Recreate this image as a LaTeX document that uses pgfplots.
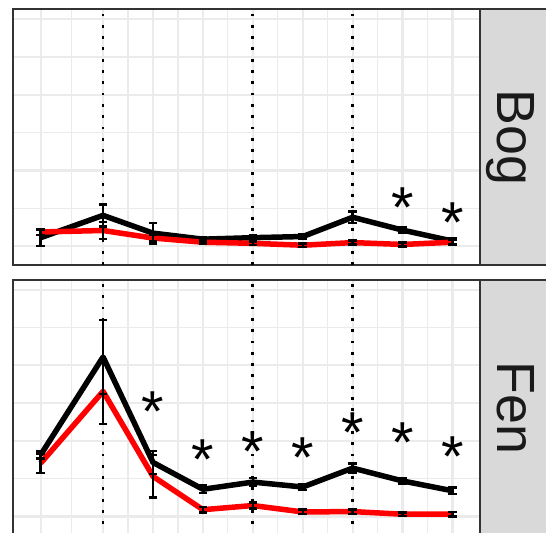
\documentclass[border=0pt]{standalone}
\usepackage{pgfplots}
\pgfplotsset{compat=1.18}
\usepackage{pgfplotstable}
\usepackage{fontspec}
\setmainfont{Liberation Sans}
\definecolor{gridc}{HTML}{EBEBEB}
\definecolor{framec}{HTML}{333333}
\definecolor{stripc}{HTML}{D9D9D9}
\definecolor{striptext}{HTML}{1A1A1A}

\pgfplotstableread{
x    bk   bke  rd   rde
0    0.22 0.22 0.37 0.08
1.25 0.81 0.29 0.41 0.22
2.25 0.34 0.27 0.21 0.08
3.25 0.18 0.06 0.10 0.05
4.25 0.22 0.07 0.07 0.05
5.25 0.25 0.07 0.02 0.05
6.25 0.76 0.15 0.09 0.05
7.25 0.42 0.08 0.04 0.05
8.25 0.13 0.08 0.10 0.06
}\bog

\pgfplotstableread{
x    bk   bke  rd   rde
0    1.63 0.10 1.41 0.26
1.25 4.22 0.98 3.31 0.86
2.25 1.43 0.31 1.06 0.56
3.25 0.72 0.10 0.18 0.07
4.25 0.91 0.11 0.29 0.08
5.25 0.78 0.08 0.12 0.06
6.25 1.28 0.12 0.13 0.06
7.25 0.94 0.07 0.06 0.05
8.25 0.68 0.09 0.06 0.06
}\fen

\pgfplotsset{
  panel/.style={
    scale only axis, width=467.3bp, height=255.5bp,
    xmin=-0.56, xmax=8.80, ymin=-0.503, ymax=6.257,
    xtick={0,1.25,2.25,3.25,4.25,5.25,6.25,7.25,8.25},
    minor xtick={0.625,1.75,2.75,3.75,4.75,5.75,6.75,7.75},
    ytick={0,2,4,6}, minor ytick={1,3,5},
    xticklabels={}, yticklabels={},
    major tick length=0pt, minor tick length=0pt,
    grid=both,
    major grid style={draw=gridc, line width=2.3bp},
    minor grid style={draw=gridc, line width=1.2bp},
    axis line style={draw=framec, line width=2bp},
  },
  vl/.style={black, line width=2.8bp, dash pattern=on 2.8bp off 8.5bp, forget plot},
  dl/.style={line width=5.5bp, line join=round, mark=none, forget plot},
  eb/.style={draw=none, mark=none, forget plot,
    error bars/.cd, y dir=both, y explicit,
    draw error bar/.code 2 args={%
      \draw[black, solid, line width=2.4bp] ##1 -- ##2;
      \draw[black, solid, line width=2.4bp] ##2 ++(-4.3bp,0) -- ++(8.6bp,0);
    }},
  st/.style={draw=none, mark=none, forget plot, nodes near coords={*},
    nodes near coords align=center,
    every node near coord/.append style={font=\fontsize{58}{58}\selectfont, text=black, inner sep=0pt, yshift=-11.5bp}},
}

\begin{document}
\begin{tikzpicture}
\useasboundingbox (0,0) rectangle (546bp,533bp);
\clip (0,0) rectangle (546bp,533bp);

% Bog panel
\begin{axis}[panel, at={(12.7bp,268bp)}, anchor=south west]
\addplot[vl] coordinates {(1.25,-0.503) (1.25,6.257)};
\addplot[vl] coordinates {(4.25,-0.503) (4.25,6.257)};
\addplot[vl] coordinates {(6.25,-0.503) (6.25,6.257)};
\addplot[dl, black] table[x=x, y=bk] {\bog};
\addplot[dl, red] table[x=x, y=rd] {\bog};
\addplot[eb] table[x=x, y=bk, y error=bke] {\bog};
\addplot[eb] table[x=x, y=rd, y error=rde] {\bog};
\addplot[st] coordinates {(7.25,1.32) (8.25,0.91)};
\end{axis}

% Fen panel
\begin{axis}[panel, at={(12.7bp,-2.5bp)}, anchor=south west]
\addplot[vl] coordinates {(1.25,-0.503) (1.25,6.257)};
\addplot[vl] coordinates {(4.25,-0.503) (4.25,6.257)};
\addplot[vl] coordinates {(6.25,-0.503) (6.25,6.257)};
\addplot[dl, black] table[x=x, y=bk] {\fen};
\addplot[dl, red] table[x=x, y=rd] {\fen};
\addplot[eb] table[x=x, y=bk, y error=bke] {\fen};
\addplot[eb] table[x=x, y=rd, y error=rde] {\fen};
\addplot[st] coordinates {(2.25,3.09) (3.25,1.81) (4.25,2.03) (5.25,1.85) (6.25,2.51) (7.25,2.25) (8.25,1.90)};
\end{axis}

% strips
\draw[fill=stripc, draw=framec, line width=2bp] (480bp,268bp) rectangle (548bp,523.5bp);
\draw[fill=stripc, draw=framec, line width=2bp] (480bp,-2.5bp) rectangle (548bp,253bp);
\node[rotate=-90, anchor=base, font=\fontsize{54}{54}\selectfont, text=striptext, inner sep=0pt] at (497bp,395.7bp) {Bog};
\node[rotate=-90, anchor=base, font=\fontsize{54}{54}\selectfont, text=striptext, inner sep=0pt] at (497bp,125.3bp) {Fen};
\end{tikzpicture}
\end{document}
